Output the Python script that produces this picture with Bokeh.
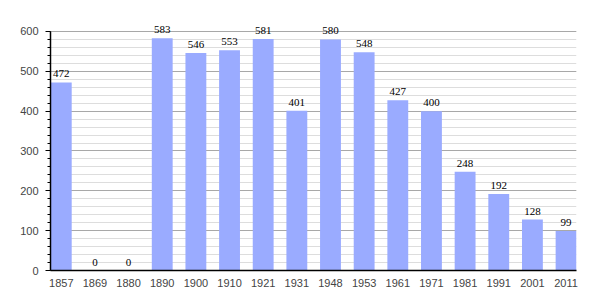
from bokeh.plotting import figure
from bokeh.models import ColumnDataSource, Range1d, FixedTicker, LabelSet
from bokeh.embed import file_html
from bokeh.resources import INLINE

years = ["1857", "1869", "1880", "1890", "1900", "1910", "1921", "1931",
         "1948", "1953", "1961", "1971", "1981", "1991", "2001", "2011"]
population = [472, 0, 0, 583, 546, 553, 581, 401, 580, 548, 427, 400, 248, 192, 128, 99]
y_ticks = [0, 100, 200, 300, 400, 500, 600]

idx = list(range(len(years)))
src = ColumnDataSource(dict(x=idx, top=population, lab=[str(v) for v in population]))

FONT = "Liberation Sans"
BAR_W = 0.62
Y_MAX = 600

p = figure(width=605, height=300, output_backend="svg", toolbar_location=None,
           x_range=Range1d(-BAR_W / 2 - 0.01, len(years) - 1 + BAR_W / 2),
           y_range=Range1d(0, 635),
           min_border_left=50, min_border_right=29, min_border_top=17, min_border_bottom=30)
p.outline_line_color = None
p.background_fill_color = "white"
p.border_fill_color = "white"

p.vbar(x="x", top="top", width=BAR_W, source=src, fill_color="#9aabff", line_color=None)

labels = LabelSet(x="x", y="top", text="lab", source=src, text_align="center",
                  text_baseline="alphabetic", y_offset=5, text_font=FONT,
                  text_font_size="11px", text_color="black")
p.add_layout(labels)

# x axis
p.xaxis.ticker = FixedTicker(ticks=idx)
p.xaxis.major_label_overrides = {i: y for i, y in enumerate(years)}
p.xaxis.major_tick_line_color = None
p.xaxis.minor_tick_line_color = None
p.xaxis.axis_line_color = "black"
p.xaxis.axis_line_width = 1.5
p.xaxis.major_label_text_font = FONT
p.xaxis.major_label_text_font_size = "11px"
p.xaxis.major_label_standoff = 2
p.xgrid.grid_line_color = None

# y axis
p.yaxis.ticker = FixedTicker(ticks=y_ticks, minor_ticks=list(range(0, Y_MAX + 1, 20)))
p.yaxis.bounds = (0, Y_MAX)
p.yaxis.axis_line_color = "black"
p.yaxis.axis_line_width = 1.5
p.yaxis.major_tick_out = 5
p.yaxis.major_tick_in = 0
p.yaxis.minor_tick_out = 3
p.yaxis.minor_tick_in = 0
p.yaxis.major_label_text_font = FONT
p.yaxis.major_label_text_font_size = "11px"
p.yaxis.major_label_standoff = 7

p.ygrid.grid_line_color = "#a8a8a8"
p.ygrid.grid_line_width = 1
p.ygrid.minor_grid_line_color = "#dddddd"
p.ygrid.minor_grid_line_width = 1
p.ygrid.level = "underlay"

open("out.html", "w").write(file_html(p, INLINE))
